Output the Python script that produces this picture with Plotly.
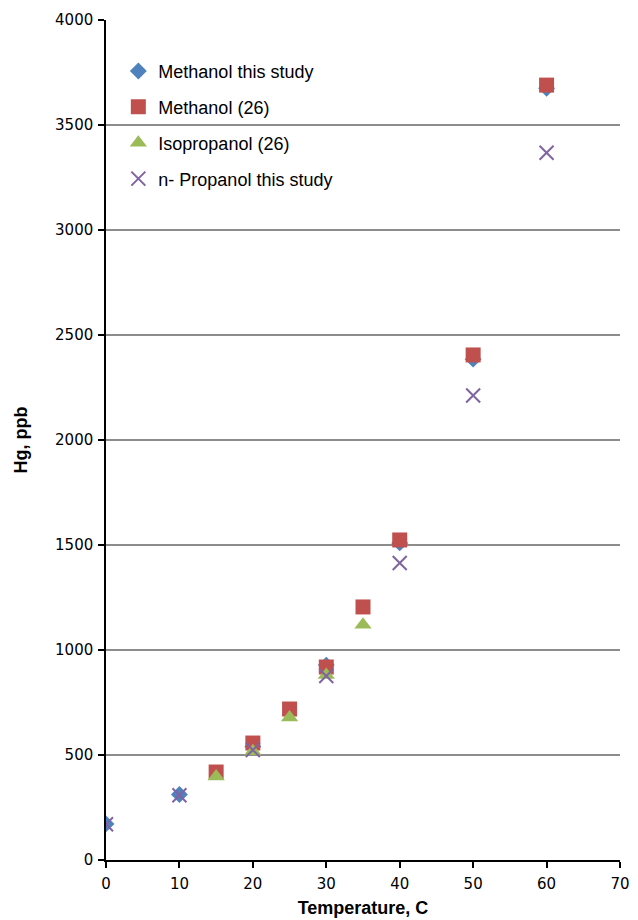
import plotly.graph_objects as go

# Data
meth_study_T = [0, 10, 20, 30, 40, 50, 60]
meth_study_Hg = [172, 312, 540, 928, 1510, 2385, 3675]

meth_26_T = [15, 20, 25, 30, 35, 40, 50, 60]
meth_26_Hg = [419, 557, 719, 919, 1205, 1524, 2405, 3690]

iso_26_T = [15, 20, 25, 30, 35]
iso_26_Hg = [398, 518, 678, 881, 1120]

nprop_T = [0, 10, 20, 30, 40, 50, 60]
nprop_Hg = [170, 308, 524, 876, 1414, 2212, 3368]

names = ["Methanol this study", "Methanol (26)", "Isopropanol (26)", "n- Propanol this study"]

fig = go.Figure()
fig.add_trace(go.Scatter(x=meth_study_T, y=meth_study_Hg, mode="markers", name=names[0],
                         legendgroup="a",
                         marker=dict(symbol="diamond", size=13, color="#4F81BD")))
fig.add_trace(go.Scatter(x=meth_26_T, y=meth_26_Hg, mode="markers", name=names[1],
                         legendgroup="b",
                         marker=dict(symbol="square", size=15, color="#C0504D")))
fig.add_trace(go.Scatter(x=iso_26_T, y=iso_26_Hg, mode="markers", name=names[2],
                         legendgroup="c",
                         marker=dict(symbol="triangle-up", size=15, color="#9BBB59")))
fig.add_trace(go.Scatter(x=nprop_T, y=nprop_Hg, mode="markers", name=names[3],
                         legendgroup="d",
                         marker=dict(symbol="x-thin", size=14, color="#8064A2",
                                     line=dict(color="#8064A2", width=2))))

fig.update_layout(
    width=638, height=920,
    margin=dict(l=98, r=26, t=12, b=68, autoexpand=False),
    paper_bgcolor="white", plot_bgcolor="white",
    showlegend=True,
    legend=dict(x=0.024, y=0.961, xanchor="left", yanchor="top",
                font=dict(family="Liberation Sans", size=18, color="black"),
                bgcolor="rgba(255,255,255,0)", tracegroupgap=9.5, itemwidth=30),
    font=dict(family="DejaVu Sans", size=15, color="black"),
)
fig.update_xaxes(range=[0, 70], dtick=10, tick0=0, showgrid=False, zeroline=False,
                 showline=True, linecolor="black", linewidth=1.5,
                 ticks="outside", ticklen=6, tickcolor="black", tickwidth=1.5,
                 ticklabelstandoff=3, automargin=False,
                 tickfont=dict(family="DejaVu Sans", size=15),
                 title=dict(text="<b>Temperature, C</b>", standoff=10,
                            font=dict(family="Liberation Sans", size=18)))
fig.update_yaxes(range=[0, 4000], dtick=500, tick0=0, showgrid=True, gridcolor="#8c8c8c",
                 gridwidth=1.6, zeroline=False,
                 showline=True, linecolor="black", linewidth=1.5,
                 ticks="outside", ticklen=6, tickcolor="black", tickwidth=1.5,
                 ticklabelstandoff=2, automargin=False,
                 tickfont=dict(family="DejaVu Sans", size=15),
                 title=dict(text="<b>Hg, ppb</b>", standoff=23,
                            font=dict(family="Liberation Sans", size=18)))

fig.write_html("out.html")
